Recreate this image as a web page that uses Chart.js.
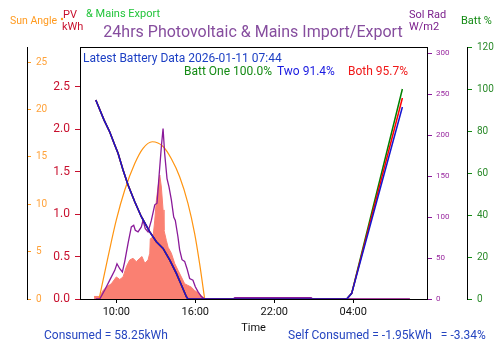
<!DOCTYPE html>
<html><head><meta charset="utf-8">
<script src="https://cdn.jsdelivr.net/npm/chart.js@4.4.0/dist/chart.umd.min.js"></script>
<style>html,body{margin:0;padding:0;background:#fff;}#wrap{width:500px;height:353px;position:relative;}</style>
</head><body><div id="wrap"><canvas id="c" width="500" height="353"></canvas></div>
<script>
// X axis (hours since midnight of first day; 28 = 04:00 next day)
const xTickValues = [10, 16, 22, 28];
const xTickLabels = ['10:00', '16:00', '22:00', '04:00'];

// Y tick labels
const sunTicks = [0, 5, 10, 15, 20, 25];
const pvTicks = [0, 0.5, 1.0, 1.5, 2.0, 2.5];
const solTicks = [0, 50, 100, 150, 200, 250, 300];
const battTicks = [0, 20, 40, 60, 80, 100, 120];

// Battery state of charge (%)
const battTimes = [8.44, 9.07, 9.50, 9.88, 10.13, 10.51, 10.89, 11.40, 11.90, 12.54, 13.04, 13.55, 14.05, 14.56, 14.94, 15.32, 15.44, 27.5, 27.88, 31.73];
const battOne  = [94.8, 85.2, 79.5, 73.3, 69.4, 61.4, 54.3, 46.3, 39.2, 32.0, 27.3, 24.1, 18.6, 12.2, 6.7, 1.1, 0, 0, 2.7, 100.0];
const battTwo  = [94.8, 85.2, 79.5, 73.3, 69.4, 61.4, 54.3, 46.3, 39.2, 32.0, 27.3, 24.1, 18.6, 12.2, 6.7, 1.1, 0, 0, 2.7, 91.4];
const battBoth = [94.8, 85.2, 79.5, 73.3, 69.4, 61.4, 54.3, 46.3, 39.2, 32.0, 27.3, 24.1, 18.6, 12.2, 6.7, 1.1, 0, 0, 2.7, 95.7];

// Sun angle (degrees)
const sunTimes  = [8.69, 9.37, 10.0, 10.64, 11.40, 12.03, 12.73, 13.55, 14.18, 14.81, 15.44, 15.95, 16.33, 16.71];
const sunValues = [0, 4.45, 8.35, 11.5, 14.3, 15.9, 16.6, 16.1, 14.8, 12.9, 10.1, 6.9, 3.7, 0];

// Solar radiation (W/m2)
const solTimes  = [8.44, 8.74, 9.12, 9.50, 9.88, 10.05, 10.26, 10.46, 10.64, 10.89, 11.14, 11.32, 11.44, 11.65, 11.90, 12.03, 12.20, 12.41, 12.66, 12.92, 13.09, 13.24, 13.42, 13.55, 13.67, 13.85, 14.00, 14.18, 14.36, 14.48, 14.68, 14.81, 14.99, 15.19, 15.37, 15.57, 15.82, 16.00, 16.20, 16.45, 16.71, 18.86, 19.0, 24.8, 24.93, 32.3];
const solValues = [0, 0, 11, 23, 35, 43, 37, 33, 46, 68, 88, 90, 84, 82, 88, 96, 86, 82, 96, 115, 117, 149, 186, 208, 178, 147, 137, 121, 100, 96, 76, 60, 48, 46, 37, 25, 23, 15, 9, 3, 0, 0, 1.5, 1.5, 0, 0];

// PV generation (kWh)
const pvTimes  = [8.31, 8.74, 8.99, 9.24, 9.62, 10.0, 10.26, 10.51, 10.76, 11.02, 11.27, 11.52, 11.78, 11.95, 12.16, 12.41, 12.54, 12.58, 12.79, 12.92, 13.04, 13.17, 13.30, 13.42, 13.55, 13.62, 13.80, 13.93, 14.18, 14.43, 14.68, 14.94, 15.19, 15.44, 15.69, 15.95, 16.33, 16.58, 16.71, 32.3];
const pvValues = [0.03, 0.03, 0.10, 0.14, 0.18, 0.26, 0.23, 0.26, 0.38, 0.46, 0.48, 0.44, 0.48, 0.50, 0.42, 0.46, 0.54, 0.71, 0.73, 0.93, 1.16, 1.32, 1.46, 1.32, 1.05, 0.81, 0.69, 0.61, 0.54, 0.42, 0.34, 0.26, 0.18, 0.16, 0.14, 0.10, 0.06, 0.02, 0, 0];

const F = 'Roboto';
const pts = (t, v) => t.map((x, i) => ({x: x, y: v[i]}));
const setTicks = arr => (s => { s.ticks = arr.map(v => ({value: v})); });

const textPlugin = {
  id: 'texts',
  afterDraw(chart) {
    const ctx = chart.ctx;
    const a = chart.chartArea;
    ctx.save();
    ctx.strokeStyle = '#000';
    ctx.lineWidth = 1;
    ctx.beginPath();
    ctx.moveTo(a.left, Math.round(a.top) + 0.5);
    ctx.lineTo(a.right, Math.round(a.top) + 0.5);
    ctx.stroke();
    const T = [
      ['Sun Angle', 10, 21, '#ff9a1f', 10.5, 'left'],
      ['PV', 63, 15, '#c8102e', 11, 'left'],
      ['kWh', 62, 27, '#c8102e', 11, 'left'],
      ['& Mains Export', 86, 14, '#22c43a', 11, 'left'],
      ['24hrs Photovoltaic & Mains Import/Export', 253, 33, '#864d9e', 16, 'center'],
      ['Sol Rad', 409, 15, '#7b1f8c', 11, 'left'],
      ['W/m2', 409, 27, '#7b1f8c', 11, 'left'],
      ['Batt %', 461, 21, '#138a13', 11, 'left'],
      ['Latest Battery Data 2026-01-11 07:44', 83, 59, '#1c3fc4', 12, 'left'],
      ['Batt One 100.0%', 184, 72, '#148a14', 12, 'left'],
      ['Two 91.4%', 277, 72, '#1a1ae0', 12, 'left'],
      ['Both 95.7%', 348, 72, '#f01818', 12, 'left'],
      ['Consumed = 58.25kWh', 44, 336, '#2545c0', 12, 'left'],
      ['Self Consumed = -1.95kWh   = -3.34%', 288, 336, '#2545c0', 12, 'left']
    ];
    ctx.textBaseline = 'middle';
    for (const [t, x, y, c, s, al] of T) {
      ctx.fillStyle = c;
      ctx.font = s + 'px ' + F;
      ctx.textAlign = al;
      ctx.fillText(t, x, y);
    }
    ctx.fillStyle = '#ff9a1f';
    ctx.beginPath();
    ctx.arc(62, 19, 1.2, 0, Math.PI * 2);
    ctx.fill();
    ctx.restore();
  }
};

new Chart(document.getElementById('c'), {
  type: 'line',
  data: {
    datasets: [
      {label: 'Batt Two', data: pts(battTimes, battTwo), yAxisID: 'yBatt', borderColor: '#1515d0', borderWidth: 1.5, pointRadius: 0, order: 0},
      {label: 'Batt Both', data: pts(battTimes, battBoth), yAxisID: 'yBatt', borderColor: '#ff0000', borderWidth: 1.5, pointRadius: 0, order: 1},
      {label: 'Batt One', data: pts(battTimes, battOne), yAxisID: 'yBatt', borderColor: '#008000', borderWidth: 1.5, pointRadius: 0, order: 2},
      {label: 'Sol Rad', data: pts(solTimes, solValues), yAxisID: 'ySol', borderColor: '#8a1a9a', borderWidth: 1.3, pointRadius: 0, order: 3},
      {label: 'Sun Angle', data: pts(sunTimes, sunValues), yAxisID: 'ySun', borderColor: '#ff9410', borderWidth: 1.2, pointRadius: 0, cubicInterpolationMode: 'monotone', order: 4},
      {label: 'PV', data: pts(pvTimes, pvValues), yAxisID: 'yPV', borderColor: '#fa8072', backgroundColor: '#fa8072', borderWidth: 1, fill: 'origin', pointRadius: 0, order: 5}
    ]
  },
  options: {
    responsive: false,
    animation: false,
    devicePixelRatio: 1,
    layout: {padding: {top: 47, bottom: 14, left: 0, right: 0}},
    plugins: {legend: {display: false}, tooltip: {enabled: false}, title: {display: false}},
    scales: {
      x: {
        type: 'linear', position: 'bottom', min: 7.24, max: 33.6,
        afterBuildTicks: setTicks(xTickValues),
        afterFit: s => { s.height = 40; },
        ticks: {callback: v => xTickLabels[xTickValues.indexOf(v)], color: '#111', font: {family: F, size: 11}, padding: 3, maxRotation: 0, autoSkip: false},
        grid: {drawOnChartArea: false, tickLength: 4, color: '#000', tickColor: '#000'},
        border: {color: '#000', width: 1},
        title: {display: true, text: 'Time', color: '#111', font: {family: F, size: 11}, padding: {top: 2, bottom: 4}}
      },
      ySun: {
        position: 'left', weight: 2, min: 0, max: 26.6,
        afterBuildTicks: setTicks(sunTicks),
        afterFit: s => { s.width = 27; },
        ticks: {mirror: true, padding: 9, color: '#ffa23a', font: {family: F, size: 10}},
        grid: {drawOnChartArea: false, tickLength: -4, color: '#ff9a20', tickColor: '#ff9a20'},
        border: {color: '#000', width: 1}
      },
      yPV: {
        position: 'left', weight: 1, min: 0, max: 2.97,
        afterBuildTicks: setTicks(pvTicks),
        afterFit: s => { s.width = 53; },
        ticks: {callback: v => Number(v).toFixed(1), color: '#c8102e', font: {family: F, size: 12}, padding: 5},
        grid: {drawOnChartArea: false, tickLength: 5, color: '#c8102e', tickColor: '#c8102e'},
        border: {color: '#000', width: 1}
      },
      ySol: {
        position: 'right', weight: 1, min: 0, max: 307.7,
        afterBuildTicks: setTicks(solTicks),
        afterFit: s => { s.width = 40; },
        ticks: {color: '#9a2aa0', font: {family: F, size: 8}, padding: 4},
        grid: {drawOnChartArea: false, tickLength: 5, color: '#8a1a9a', tickColor: '#8a1a9a'},
        border: {color: '#000', width: 1}
      },
      yBatt: {
        position: 'right', weight: 2, min: 0, max: 120,
        afterBuildTicks: setTicks(battTicks),
        afterFit: s => { s.width = 33; },
        ticks: {color: '#2a8a2a', font: {family: F, size: 10}, padding: 5},
        grid: {drawOnChartArea: false, tickLength: 5, color: '#138a13', tickColor: '#138a13'},
        border: {color: '#000', width: 1}
      }
    }
  },
  plugins: [textPlugin]
});
</script>
</body></html>
